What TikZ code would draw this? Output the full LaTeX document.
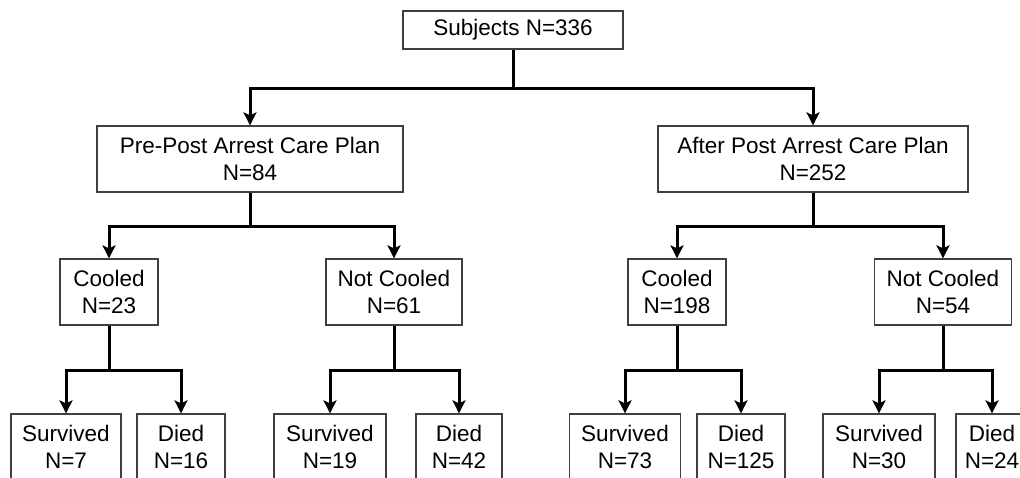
\documentclass[tikz,border=0pt]{standalone}
\usepackage{fontspec}
\setmainfont{Liberation Sans}
\usetikzlibrary{arrows.meta}

\begin{document}
\begin{tikzpicture}[x=1pt,y=-1pt,
    box/.style={draw=black!75,line width=1.3pt,minimum height=66pt,inner sep=0pt,
      align=center,font=\fontsize{22.5}{27}\selectfont},
    link/.style={line width=3pt},
    arr/.style={link,-{Stealth[length=13pt,width=13pt,inset=3pt]}}]
      \useasboundingbox (0,0) rectangle (1020,477);
      \clip (0,0) rectangle (1020,477);
      % top
      \node[box,minimum width=220pt,minimum height=38pt] (subj) at (513,30) {Subjects N=336};
      \node[box,minimum width=306pt] (pre) at (250,159) {Pre-Post Arrest Care Plan\\N=84};
      \node[box,minimum width=310pt] (after) at (813,159) {After Post Arrest Care Plan\\N=252};
      % cooled / not cooled
      \node[box,minimum width=98pt] (cool1) at (109,292) {Cooled\\N=23};
      \node[box,minimum width=136pt] (ncool1) at (394,292) {Not Cooled\\N=61};
      \node[box,minimum width=98pt] (cool2) at (677,292) {Cooled\\N=198};
      \node[box,minimum width=137pt] (ncool2) at (943,292) {Not Cooled\\N=54};
      % outcomes
      \node[box,minimum width=110pt] (surv1) at (66,447) {Survived\\N=7};
      \node[box,minimum width=88pt] (died1) at (181,447) {Died\\N=16};
      \node[box,minimum width=112pt] (surv2) at (330,447) {Survived\\N=19};
      \node[box,minimum width=86pt] (died2) at (459,447) {Died\\N=42};
      \node[box,minimum width=111pt] (surv3) at (625,447) {Survived\\N=73};
      \node[box,minimum width=88pt] (died3) at (741,447) {Died\\N=125};
      \node[box,minimum width=112pt] (surv4) at (879,447) {Survived\\N=30};
      \node[box,minimum width=72pt] (died4) at (992,447) {Died\\N=24};
      % junctions
      \coordinate (j0) at (513,88);
      \coordinate (j1) at (250,226);
      \coordinate (j2) at (813,226);
      \coordinate (j3) at (109,370);
      \coordinate (j4) at (394,370);
      \coordinate (j5) at (677,370);
      \coordinate (j6) at (943,370);
      \begin{scope}[link]
        \draw (subj) -- (j0);
        \draw (pre) -- (j1);
        \draw (after) -- (j2);
        \draw (cool1) -- (j3);
        \draw (ncool1) -- (j4);
        \draw (cool2) -- (j5);
        \draw (ncool2) -- (j6);
      \end{scope}
      \begin{scope}[arr]
        \draw (j0) -| (pre);
        \draw (j0) -| (after);
        \draw (j1) -| (cool1);
        \draw (j1) -| (ncool1);
        \draw (j2) -| (cool2);
        \draw (j2) -| (ncool2);
        \draw (j3) -| (surv1);
        \draw (j3) -| (died1);
        \draw (j4) -| (surv2);
        \draw (j4) -| (died2);
        \draw (j5) -| (surv3);
        \draw (j5) -| (died3);
        \draw (j6) -| (surv4);
        \draw (j6) -| (died4);
      \end{scope}
    \end{tikzpicture}
\end{document}
